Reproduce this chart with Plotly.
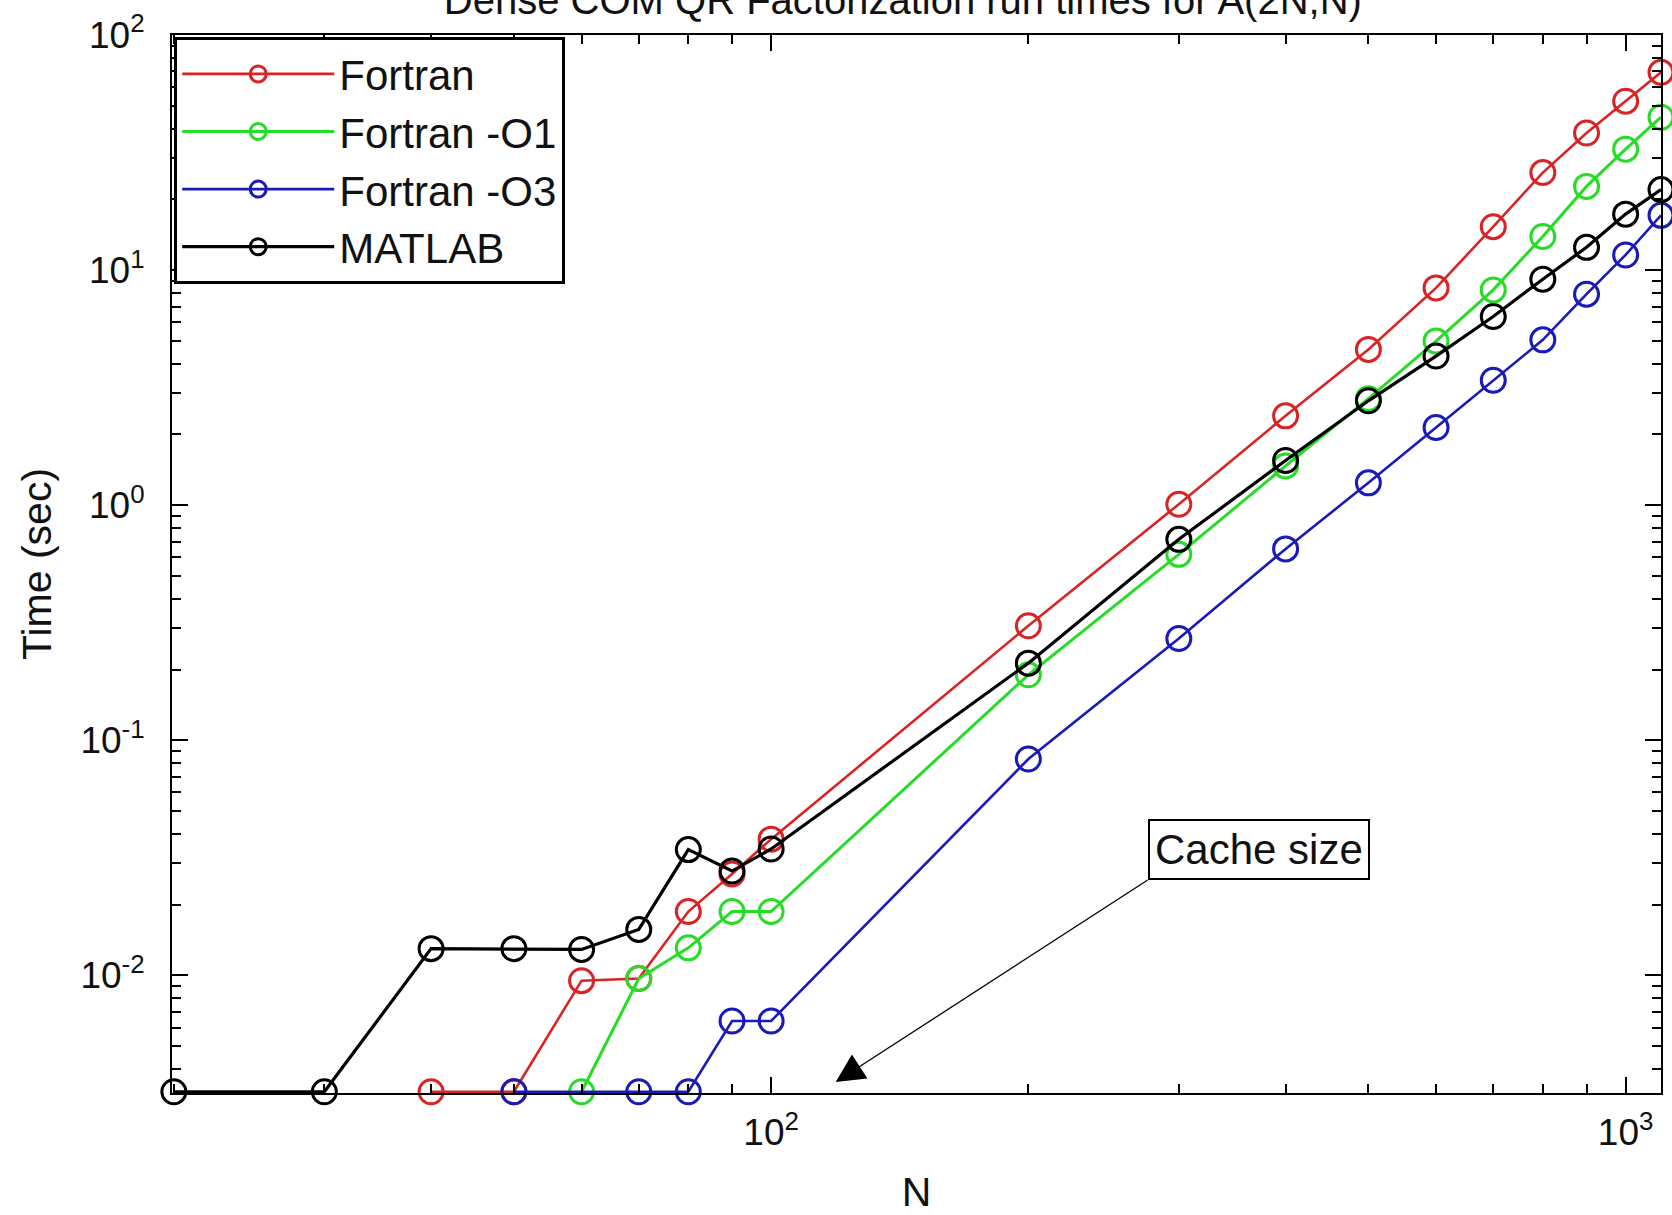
import math
import plotly.graph_objects as go

# ---------------- data ----------------
N = [20, 30, 40, 50, 60, 70, 80, 90, 100, 200, 300, 400, 500, 600, 700, 800, 900, 1000, 1100]

fortran = [None, None, 0.0032, 0.0032, 0.0095, 0.0097, 0.0187, 0.027, 0.038,
           0.307, 1.01, 2.40, 4.6, 8.4, 15.3, 26.0, 38.3, 52.3, 69.4]
fortran_o1 = [None, None, None, None, 0.0032, 0.0097, 0.0131, 0.0187, 0.0187,
              0.19, 0.618, 1.47, 2.84, 4.99, 8.24, 13.9, 22.7, 32.7, 44.7]
fortran_o3 = [None, None, None, 0.0032, None, 0.0032, 0.0032, 0.0064, 0.0064,
              0.0833, 0.271, 0.652, 1.245, 2.14, 3.4, 5.05, 7.9, 11.6, 17.1]
matlab = [0.0032, 0.0032, 0.013, 0.013, 0.0129, 0.0157, 0.0343, 0.0278, 0.0345,
          0.213, 0.716, 1.55, 2.78, 4.31, 6.35, 9.15, 12.5, 17.3, 22.0]

series_names = ["Fortran", "Fortran -O1", "Fortran -O3", "MATLAB"]
series_values = [fortran, fortran_o1, fortran_o3, matlab]
series_colors = ["#d82424", "#26dc26", "#1a1ab8", "#000000"]
series_widths = [2.6, 3.0, 2.6, 3.2]

x_tick_vals = [100, 1000]
x_tick_text = ["10<sup>2</sup>", "10<sup>3</sup>"]
y_tick_vals = [0.01, 0.1, 1, 10, 100]
y_tick_text = ["10<sup>-2</sup>", "10<sup>-1</sup>", "10<sup>0</sup>", "10<sup>1</sup>", "10<sup>2</sup>"]

title_text = "Dense COM QR Factorization run times for A(2N,N)"
x_title = "N"
y_title = "Time (sec)"
note_text = "Cache size"
note_head = (119, 0.00352)    # arrow tip (N, time)
note_tail = (277, 0.0257)     # arrow start (N, time)
note_box = (372, 0.0344)      # centre of the text box (N, time)

x_range = [19.9, 1100]
y_range = [10 ** -2.5, 100]

FONT = "Liberation Sans, Arial, sans-serif"

fig = go.Figure()
for name, vals, col, w in zip(series_names, series_values, series_colors, series_widths):
    fig.add_trace(go.Scatter(
        x=N, y=vals, name=name, mode="lines+markers",
        connectgaps=True, cliponaxis=False,
        line=dict(color=col, width=w),
        marker=dict(symbol="circle-open", size=24, color=col, line=dict(width=3, color=col)),
    ))

minor_x = [m * 10 ** e for e in range(1, 4) for m in range(2, 10)]
minor_y = [m * 10 ** e for e in range(-3, 2) for m in range(2, 10)]

axis_common = dict(
    type="log", showgrid=False, zeroline=False,
    showline=True, linecolor="black", linewidth=2, mirror="ticks",
    ticks="inside", ticklen=16, tickwidth=2, tickcolor="black",
    tickfont=dict(family=FONT, size=37, color="#111"),
)

fig.update_xaxes(
    **axis_common,
    range=[math.log10(x_range[0]), math.log10(x_range[1])],
    tickmode="array", tickvals=x_tick_vals, ticktext=x_tick_text,
    minor=dict(tickmode="array", tickvals=minor_x, ticks="inside", ticklen=9,
               tickwidth=2, tickcolor="black", showgrid=False),
    title=dict(text=x_title, font=dict(family=FONT, size=41, color="#111"), standoff=28),
    ticklabelstandoff=6,
)
fig.update_yaxes(
    **axis_common,
    range=[math.log10(y_range[0]), math.log10(y_range[1])],
    tickmode="array", tickvals=y_tick_vals, ticktext=y_tick_text,
    minor=dict(tickmode="array", tickvals=minor_y, ticks="inside", ticklen=9,
               tickwidth=2, tickcolor="black", showgrid=False),
    title=dict(text=y_title, font=dict(family=FONT, size=41, color="#111"), standoff=16),
    ticklabelstandoff=18,
)

fig.add_annotation(
    x=math.log10(note_head[0]), y=math.log10(note_head[1]),
    ax=math.log10(note_tail[0]), ay=math.log10(note_tail[1]),
    xref="x", yref="y", axref="x", ayref="y",
    text="", showarrow=True, arrowhead=2, arrowsize=4.4, arrowwidth=1.3,
    arrowcolor="black", standoff=0, startstandoff=0,
)
fig.add_annotation(
    x=math.log10(note_box[0]), y=math.log10(note_box[1]),
    xref="x", yref="y", text=note_text, showarrow=False,
    font=dict(family=FONT, size=42, color="#111"),
    bordercolor="black", borderwidth=2, borderpad=5, bgcolor="white",
    xanchor="center", yanchor="middle",
)

fig.update_layout(
    width=1672, height=1215,
    margin=dict(l=172, r=11, t=35, b=122, autoexpand=False),
    paper_bgcolor="white", plot_bgcolor="white",
    title=dict(text=title_text, x=0.54, xanchor="center", y=1.0, yanchor="middle",
               yref="container", xref="container",
               font=dict(family=FONT, size=40, color="#111")),
    showlegend=True,
    legend=dict(x=0.0015, y=0.998, xanchor="left", yanchor="top",
                bgcolor="white", bordercolor="black", borderwidth=3,
                font=dict(family=FONT, size=42, color="#111"),
                itemwidth=152, itemsizing="trace"),
)

fig.write_html("out.html")
